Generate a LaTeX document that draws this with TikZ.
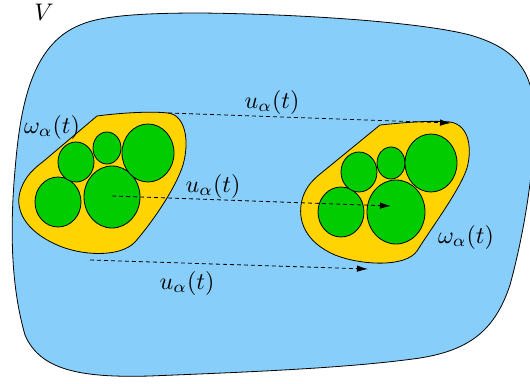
\documentclass[tikz,border=0pt]{standalone}
\usepackage{graphicx}
\usetikzlibrary{arrows.meta}
\definecolor{vblue}{RGB}{135,206,250}
\definecolor{blobyellow}{RGB}{255,212,0}
\definecolor{cellgreen}{RGB}{0,204,0}
\newcommand{\lblsc}[1]{\scalebox{2.4}{#1}}
\tikzset{
  outline/.style={draw=black,line width=0.8pt},
  blob/.style={outline,fill=blobyellow},
  cell/.style={outline,fill=cellgreen},
  motion/.style={line width=0.8pt,dash pattern=on 4pt off 3pt,-{Latex[length=11pt,width=6.5pt]}},
  lbl/.style={inner sep=0pt}
}
\begin{document}
\begin{tikzpicture}[x=1pt,y=-1pt]
\useasboundingbox (0,0) rectangle (530,383);
\begin{scope}
\clip (0,0) rectangle (530,383);
% domain V
\draw[outline,fill=vblue] (200,13) .. controls (300,14) and (420,22) .. (470,35)
  .. controls (515,48) and (532,70) .. (534,110)
  .. controls (536,160) and (525,230) .. (510,285)
  .. controls (495,330) and (470,350) .. (420,358)
  .. controls (350,368) and (250,372) .. (150,376)
  .. controls (80,378) and (40,370) .. (25,335)
  .. controls (15,300) and (8,250) .. (15,170)
  .. controls (20,110) and (30,45) .. (80,25)
  .. controls (100,16) and (140,13) .. (200,13) -- cycle;
\end{scope}
% left blob
\draw[blob] (97,116) .. controls (120,113) and (150,111) .. (168,113)
  .. controls (185,115) and (190,140) .. (183,165)
  .. controls (175,190) and (150,225) .. (135,242)
  .. controls (120,258) and (80,256) .. (55,244)
  .. controls (25,230) and (15,210) .. (20,192)
  .. controls (25,175) and (35,168) .. (45,160) -- cycle;
\draw[cell] (58,202) ellipse [x radius=23,y radius=25];
\draw[cell] (112,197) ellipse [x radius=28,y radius=31];
\draw[cell] (76,162) ellipse [x radius=18,y radius=20];
\draw[cell] (107,148) ellipse [x radius=14,y radius=16];
\draw[cell] (148,153) ellipse [x radius=26,y radius=29];
% right blob
\draw[blob] (380,125) .. controls (400,123) and (430,120) .. (450,122)
  .. controls (470,125) and (472,150) .. (467,168)
  .. controls (460,190) and (430,230) .. (417,251)
  .. controls (405,268) and (360,265) .. (335,255)
  .. controls (305,242) and (297,220) .. (302,200)
  .. controls (306,185) and (315,178) .. (325,170) -- cycle;
\draw[cell] (341,212) ellipse [x radius=23,y radius=25];
\draw[cell] (396,212) ellipse [x radius=29,y radius=32];
\draw[cell] (359,172) ellipse [x radius=18,y radius=20];
\draw[cell] (391,163) ellipse [x radius=14,y radius=16];
\draw[cell] (431,163) ellipse [x radius=26,y radius=29];
% arrow end points
\coordinate (topA) at (168,113);
\coordinate (topB) at (451,123);
\coordinate (midA) at (112,196);
\coordinate (midB) at (391,206);
\coordinate (botA) at (90,260);
\coordinate (botB) at (368,269);
\draw[motion] (topA) -- (topB);
\draw[motion] (midA) -- (midB);
\draw[motion] (botA) -- (botB);
% labels
\node[lbl] (lV) at (44,12) {\lblsc{$V$}};
\node[lbl] (lu1) at (272,102) {\lblsc{$u_\alpha(t)$}};
\node[lbl] (lu2) at (213,186) {\lblsc{$u_\alpha(t)$}};
\node[lbl] (lu3) at (187,283) {\lblsc{$u_\alpha(t)$}};
\node[lbl] (lw1) at (52,127) {\lblsc{$\omega_\alpha(t)$}};
\node[lbl] (lw2) at (466,237) {\lblsc{$\omega_\alpha(t)$}};
\end{tikzpicture}
\end{document}
